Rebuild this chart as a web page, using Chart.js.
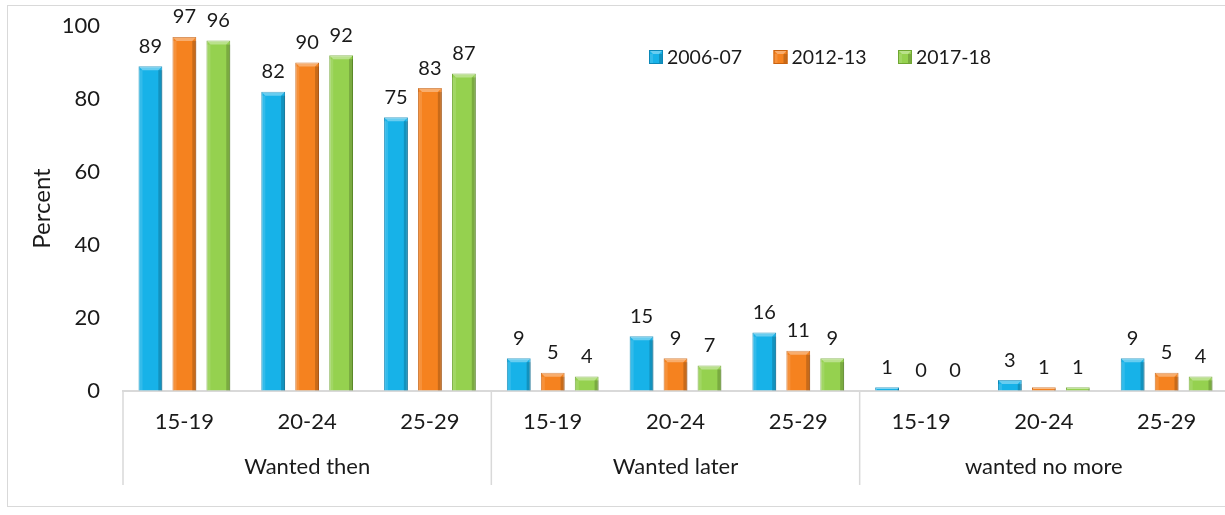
<!DOCTYPE html>
<html>
<head>
<meta charset="utf-8">
<script src="https://cdn.jsdelivr.net/npm/chart.js@4.4.1/dist/chart.umd.min.js"></script>
<style>
    html, body { margin: 0; padding: 0; background: #fff; overflow: hidden; }
    #frame { position: absolute; left: 7px; top: 5px; width: 1240px; height: 502px; border: 1px solid #d9d9d9; border-right: none; box-sizing: border-box; }
    #wrap { position: absolute; left: 0; top: 0; width: 1240px; height: 515px; }
</style>
</head>
<body>
<div id="frame"></div>
<div id="wrap"><canvas id="fertilityChart"></canvas></div>
<script>
// Chart data
const groups = ['Wanted then', 'Wanted later', 'wanted no more'];
const ages = ['15-19', '20-24', '25-29'];
const seriesNames = ['2006-07', '2012-13', '2017-18'];
const values2006 = [89, 82, 75, 9, 15, 16, 1, 3, 9];
const values2012 = [97, 90, 83, 5, 9, 11, 0, 1, 5];
const values2017 = [96, 92, 87, 4, 7, 9, 0, 1, 4];
const yTicks = [0, 20, 40, 60, 80, 100];

const FONT = 'Lato, "Open Sans", sans-serif';
const fills = ['#17b2e8', '#f5821f', '#95d14f'];
const edges = ['#0b88b8', '#c9620f', '#6fa632'];

// one label per bar position: age band repeated for every group
const xLabels = [];
groups.forEach(() => ages.forEach(a => xLabels.push(a)));

// small bevel on each bar, like the office 3D style
function drawBevel(ctx, x, top, w, h) {
    if (h < 2) return;
    const b = Math.min(4, h / 2);
    ctx.fillStyle = 'rgba(255,255,255,0.35)';
    ctx.beginPath();
    ctx.moveTo(x, top);
    ctx.lineTo(x + w, top);
    ctx.lineTo(x + w - b, top + b);
    ctx.lineTo(x + b, top + b);
    ctx.closePath();
    ctx.fill();
    ctx.fillStyle = 'rgba(255,255,255,0.12)';
    ctx.fillRect(x, top + b, b, h - b);
    ctx.fillStyle = 'rgba(0,0,0,0.18)';
    ctx.fillRect(x + w - b, top + b, b, h - b);
}

const barDecor = {
    id: 'barDecor',
    afterDatasetsDraw(chart) {
        const ctx = chart.ctx;
        ctx.save();
        chart.data.datasets.forEach((ds, i) => {
            const meta = chart.getDatasetMeta(i);
            meta.data.forEach((bar, j) => {
                const left = bar.x - bar.width / 2;
                drawBevel(ctx, left, bar.y, bar.width, bar.base - bar.y);
                // value label above the bar
                ctx.fillStyle = '#1a1a1a';
                ctx.font = '20px ' + FONT;
                ctx.textAlign = 'center';
                ctx.textBaseline = 'bottom';
                ctx.fillText(String(ds.data[j]), bar.x, bar.y - 10);
            });
        });
        ctx.restore();
    }
};

// group row under the age labels, with separators at group borders
const groupAxis = {
    id: 'groupAxis',
    afterDraw(chart) {
        const ctx = chart.ctx;
        const xs = chart.scales.x;
        const area = chart.chartArea;
        const catW = (xs.right - xs.left) / xLabels.length;
        ctx.save();
        ctx.strokeStyle = '#d9d9d9';
        ctx.lineWidth = 1.5;
        for (let g = 0; g <= groups.length; g++) {
            const px = xs.left + g * ages.length * catW;
            ctx.beginPath();
            ctx.moveTo(px, area.bottom);
            ctx.lineTo(px, area.bottom + 94);
            ctx.stroke();
        }
        ctx.fillStyle = '#1a1a1a';
        ctx.font = '22px ' + FONT;
        ctx.textAlign = 'center';
        ctx.textBaseline = 'middle';
        groups.forEach((name, g) => {
            const cx = xs.left + (g * ages.length + ages.length / 2) * catW;
            ctx.fillText(name, cx, area.bottom + 76);
        });
        ctx.restore();
    }
};

// legend drawn inside the plot area
const innerLegend = {
    id: 'innerLegend',
    afterDraw(chart) {
        const ctx = chart.ctx;
        const area = chart.chartArea;
        const startX = area.left + 526;
        const cy = area.top + 31;
        ctx.save();
        ctx.font = '19.5px ' + FONT;
        ctx.textBaseline = 'middle';
        ctx.textAlign = 'left';
        seriesNames.forEach((name, i) => {
            const x = startX + i * 124.5;
            ctx.fillStyle = fills[i];
            ctx.fillRect(x, cy - 7, 14, 14);
            drawBevel(ctx, x, cy - 7, 14, 14);
            ctx.strokeStyle = edges[i];
            ctx.lineWidth = 1;
            ctx.strokeRect(x + 0.5, cy - 6.5, 13, 13);
            ctx.fillStyle = '#1a1a1a';
            ctx.fillText(name, x + 18, cy + 1);
        });
        ctx.restore();
    }
};

const seriesData = [values2006, values2012, values2017];

const ctx = document.getElementById('fertilityChart').getContext('2d');
const chart = new Chart(ctx, {
    type: 'bar',
    data: {
        labels: xLabels,
        datasets: seriesNames.map((name, i) => ({
            label: name,
            data: seriesData[i],
            backgroundColor: fills[i],
            borderColor: edges[i],
            borderWidth: 1,
            categoryPercentage: 0.83,
            barPercentage: 0.7
        }))
    },
    options: {
        responsive: true,
        maintainAspectRatio: false,
        animation: false,
        layout: {
            padding: { top: 26, right: 12, bottom: 0, left: 0 }
        },
        scales: {
            x: {
                grid: { display: false },
                border: { display: true, color: '#d9d9d9', width: 2 },
                ticks: {
                    color: '#1a1a1a',
                    font: { family: FONT, size: 22 },
                    padding: 10,
                    maxRotation: 0,
                    autoSkip: false
                },
                afterFit(scale) { scale.height = 124; }
            },
            y: {
                min: 0,
                max: 100,
                // invisible tick marks keep the labels off the plot edge
                grid: { display: true, drawOnChartArea: false, drawTicks: true, tickLength: 20, color: 'rgba(0,0,0,0)' },
                border: { display: false },
                afterBuildTicks(scale) {
                    scale.ticks = yTicks.map(v => ({ value: v }));
                },
                ticks: {
                    color: '#1a1a1a',
                    font: { family: FONT, size: 22 },
                    padding: 3
                },
                title: {
                    display: true,
                    text: 'Percent',
                    color: '#1a1a1a',
                    font: { family: FONT, size: 24 },
                    padding: { top: 28, bottom: 0 }
                },
                afterFit(scale) { scale.width = 123; }
            }
        },
        plugins: {
            legend: { display: false },
            tooltip: { enabled: false }
        }
    },
    plugins: [barDecor, groupAxis, innerLegend]
});
</script>
</body>
</html>
